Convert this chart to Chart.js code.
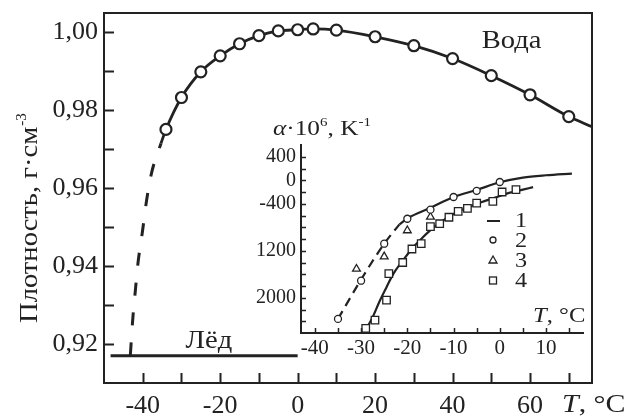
<!DOCTYPE html>
<html>
<head>
<meta charset="utf-8">
<script src="https://cdn.jsdelivr.net/npm/chart.js@4.4.0/dist/chart.umd.min.js"></script>
<style>
  body { margin: 0; background: #fff; }
  #wrap { position: relative; width: 629px; height: 418px; }
  #main { position: absolute; left: 0; top: 0; }
  #inset { position: absolute; left: 230px; top: 100px; }
</style>
</head>
<body>
<div id="wrap">
  <canvas id="main" width="629" height="418"></canvas>
  <canvas id="inset" width="370" height="260"></canvas>
</div>
<script>
const INK = '#222';
const SERIF = '"Liberation Serif", "Times New Roman", serif';

// плотность воды (кружки), T в °C, г/см3
const waterT = [-34, -30, -25, -20, -15, -10, -5, 0, 4, 10, 20, 30, 40, 50, 60, 70];
const waterD = [0.9751, 0.9833, 0.9899, 0.9940, 0.9971, 0.9992, 1.0004, 1.0007, 1.0009, 1.0006, 0.9989, 0.9966, 0.9933, 0.9889, 0.9840, 0.9784];
// сплошная кривая: от начала пунктира до правого края
const curveT = [-35.3, ...waterT, 76];
const curveD = [0.9715, ...waterD, 0.9758];
// пунктир – переохлаждённая вода
const superT = [-43.2, -42.6, -41.9, -41.2, -40.1, -39.0, -37.7, -35.3];
const superD = [0.9171, 0.9261, 0.9338, 0.9410, 0.9487, 0.9569, 0.9640, 0.9715];
// лёд
const iceT = [-48.3, 0];
const iceD = [0.917, 0.917];

const mainXTicks = [-40, -30, -20, -10, 0, 10, 20, 30, 40, 50, 60, 70];
const mainXTickLabels = ['-40', '', '-20', '', '0', '', '20', '', '40', '', '60', ''];
const mainYTicks = [0.92, 0.93, 0.94, 0.95, 0.96, 0.97, 0.98, 0.99, 1.00];
const mainYTickLabels = ['0,92', '', '0,94', '', '0,96', '', '0,98', '', '1,00'];

// вставка: коэффициент расширения alpha*10^6, 1/K
const circT = [-35, -30, -25, -20, -15, -10, -5, 0];
const circA = [-2360, -1710, -1080, -655, -500, -285, -180, -30];
const triT = [-31, -25, -20, -15];
const triA = [-1510, -1300, -855, -625];
const sqT = [-29, -27, -24.5, -24, -21, -19, -17, -15, -13, -11, -9, -7, -5, -1.5, 0.5, 3.5];
const sqA = [-2520, -2380, -2040, -1590, -1400, -1170, -1080, -790, -740, -630, -530, -480, -390, -360, -200, -160];
const line1DashT = [-35, -30, -25, -21.7];
const line1DashA = [-2360, -1690, -1080, -750];
const line1T = [-21.7, -20, -15, -10, -5, 0, 5, 10, 15.6];
const line1A = [-750, -650, -470, -285, -165, -35, 45, 85, 114];
const line4T = [-29.5, -27.5, -26, -24.5, -23, -21, -19, -17, -15, -13, -10, -7, -4, -1, 2, 5, 7.2];
const line4A = [-2610, -2330, -2060, -1820, -1590, -1370, -1165, -1000, -850, -725, -575, -465, -375, -295, -215, -160, -118];

const insetXTicks = [-40, -35, -30, -25, -20, -15, -10, -5, 0, 5, 10, 15];
const insetXTickLabels = ['-40', '', '-30', '', '-20', '', '-10', '', '0', '', '10', ''];
const insetYTicks = [-2400, -2200, -2000, -1800, -1600, -1400, -1200, -1000, -800, -600, -400, -200, 0, 200, 400];
const insetYTickLabels = ['', '', '2000', '', '', '', '1200', '', '', '', '-400', '', '0', '', '400'];
const legendLabels = ['1', '2', '3', '4'];

const pts = (xs, ys) => xs.map((x, i) => ({ x, y: ys[i] }));

// размеры оси задаём сами, без запаса под крайние подписи
function fixBox(size) {
  return s => {
    if (s.isHorizontal()) s.height = size; else s.width = size;
    s.paddingTop = s.paddingBottom = s.paddingLeft = s.paddingRight = 0;
  };
}

// текст, слегка растянутый по ширине
function wideText(ctx, s, x, y, sx) {
  ctx.save();
  ctx.translate(x, y);
  ctx.scale(sx, 1);
  ctx.fillText(s, 0, 0);
  const w = ctx.measureText(s).width * sx;
  ctx.restore();
  return w;
}

// засечки внутрь области графика (+ рамка для основного графика)
const innerTicks = {
  id: 'innerTicks',
  afterDatasetsDraw(chart, args, opts) {
    const { ctx, chartArea: a, scales: { x, y } } = chart;
    ctx.save();
    ctx.strokeStyle = INK;
    ctx.lineWidth = opts.width;
    ctx.beginPath();
    x.ticks.forEach(t => {
      const px = Math.round(x.getPixelForValue(t.value)) + 0.5;
      ctx.moveTo(px, a.bottom);
      ctx.lineTo(px, a.bottom - opts.len);
    });
    y.ticks.forEach(t => {
      const py = Math.round(y.getPixelForValue(t.value)) + 0.5;
      ctx.moveTo(a.left, py);
      ctx.lineTo(a.left + opts.len, py);
    });
    ctx.stroke();
    if (opts.frame) {
      ctx.lineWidth = opts.frame;
      ctx.strokeRect(a.left, a.top, a.width, a.height);
    }
    ctx.restore();
  }
};

const mainNotes = {
  id: 'mainNotes',
  afterDraw(chart) {
    const { ctx, scales: { x, y } } = chart;
    ctx.save();
    ctx.fillStyle = INK;
    ctx.textAlign = 'left';
    ctx.textBaseline = 'alphabetic';
    ctx.font = '26px ' + SERIF;
    wideText(ctx, 'Вода', x.getPixelForValue(55) - 29, y.getPixelForValue(0.9961), 1.1);
    wideText(ctx, 'Лёд', x.getPixelForValue(-23) - 23, y.getPixelForValue(0.9189), 1.1);

    // T, °C справа под осью
    ctx.font = 'italic 26px ' + SERIF;
    const tw = wideText(ctx, 'T', 562, 412, 1.15);
    ctx.font = '26px ' + SERIF;
    wideText(ctx, ', °C', 562 + tw, 412, 1.15);

    // подпись оси y
    ctx.translate(37, 323);
    ctx.rotate(-Math.PI / 2);
    ctx.font = '26px ' + SERIF;
    const w = wideText(ctx, 'Плотность, г·см', 0, 0, 1.1);
    ctx.font = '15px ' + SERIF;
    ctx.fillText('-3', w + 1, -11);
    ctx.restore();
  }
};

const insetNotes = {
  id: 'insetNotes',
  afterDraw(chart) {
    const { ctx } = chart;
    ctx.save();
    ctx.fillStyle = INK;
    ctx.strokeStyle = INK;
    ctx.textBaseline = 'alphabetic';
    ctx.textAlign = 'left';

    // alpha·10^6, K^-1
    const parts = [
      ['italic 22px', 'α', 0], ['22px', '·10', 0], ['13px', '6', -9],
      ['22px', ', K', 0], ['13px', '-1', -9]
    ];
    let cx = 43;
    parts.forEach(([f, s, dy]) => {
      ctx.font = f + ' ' + SERIF;
      cx += wideText(ctx, s, cx, 35 + dy, 1.15);
    });

    // T, °C у оси вставки
    ctx.font = 'italic 22px ' + SERIF;
    const tw = wideText(ctx, 'T', 303, 222, 1.12);
    ctx.font = '22px ' + SERIF;
    wideText(ctx, ', °C', 303 + tw, 222, 1.12);

    // легенда
    const lx = 263, ys = [120, 140, 160, 180];
    ctx.beginPath();
    ctx.moveTo(lx - 6, ys[0] + 1); ctx.lineTo(lx + 7, ys[0] + 1);
    ctx.lineWidth = 2;
    ctx.stroke();
    ctx.lineWidth = 1.3;
    ctx.beginPath();
    ctx.arc(lx, ys[1], 3, 0, Math.PI * 2);
    ctx.stroke();
    ctx.beginPath();
    ctx.moveTo(lx, ys[2] - 4); ctx.lineTo(lx + 4, ys[2] + 3); ctx.lineTo(lx - 4, ys[2] + 3); ctx.closePath();
    ctx.stroke();
    ctx.strokeRect(lx - 3.5, ys[3] - 3, 7, 7);
    ctx.font = '22px ' + SERIF;
    ctx.textBaseline = 'middle';
    legendLabels.forEach((s, i) => wideText(ctx, s, 285, ys[i] + 1, 1.1));
    ctx.restore();
  }
};

new Chart(document.getElementById('main'), {
  type: 'scatter',
  data: {
    datasets: [
      {
        data: pts(waterT, waterD),
        pointStyle: 'circle', pointRadius: 5.5, pointBorderWidth: 2.2,
        pointBackgroundColor: '#fff', pointBorderColor: INK
      },
      {
        data: pts(curveT, curveD), showLine: true, pointRadius: 0,
        borderColor: INK, borderWidth: 2.8, cubicInterpolationMode: 'monotone'
      },
      {
        data: pts(superT, superD), showLine: true, pointRadius: 0,
        borderColor: INK, borderWidth: 3, borderDash: [13, 17], cubicInterpolationMode: 'monotone'
      },
      {
        data: pts(iceT, iceD), showLine: true, pointRadius: 0,
        borderColor: INK, borderWidth: 3
      }
    ]
  },
  options: {
    responsive: false,
    animation: false,
    events: [],
    layout: { padding: { left: 0, top: 13, right: 37, bottom: 0 } },
    plugins: {
      legend: { display: false },
      tooltip: { enabled: false },
      innerTicks: { len: 10, width: 2, frame: 2 }
    },
    scales: {
      x: {
        type: 'linear', min: -50, max: 76,
        grid: { display: false, drawTicks: false },
        border: { display: false },
        afterBuildTicks: s => { s.ticks = mainXTicks.map(v => ({ value: v })); },
        afterFit: fixBox(35),
        ticks: {
          autoSkip: false, maxRotation: 0, padding: 8, color: INK,
          font: { family: SERIF, size: 26 },
          callback: (v, i) => mainXTickLabels[i]
        }
      },
      y: {
        type: 'linear', min: 0.910, max: 1.005,
        grid: { display: false, drawTicks: false },
        border: { display: false },
        afterBuildTicks: s => { s.ticks = mainYTicks.map(v => ({ value: v })); },
        afterFit: fixBox(104),
        ticks: {
          autoSkip: false, padding: 6, color: INK,
          font: { family: SERIF, size: 26 },
          callback: (v, i) => mainYTickLabels[i]
        }
      }
    }
  },
  plugins: [innerTicks, mainNotes]
});

new Chart(document.getElementById('inset'), {
  type: 'scatter',
  data: {
    datasets: [
      {
        data: pts(circT, circA), pointStyle: 'circle', pointRadius: 3.5, pointBorderWidth: 1.3,
        pointBackgroundColor: '#fff', pointBorderColor: INK
      },
      {
        data: pts(triT, triA), pointStyle: 'triangle', pointRadius: 4.5, pointBorderWidth: 1.3,
        pointBackgroundColor: 'rgba(0,0,0,0)', pointBorderColor: INK
      },
      {
        data: pts(sqT, sqA), pointStyle: 'rect', pointRadius: 5.3, pointBorderWidth: 1.3,
        pointBackgroundColor: '#fff', pointBorderColor: INK
      },
      {
        data: pts(line1T, line1A), showLine: true, pointRadius: 0,
        borderColor: INK, borderWidth: 2.2, cubicInterpolationMode: 'monotone'
      },
      {
        data: pts(line1DashT, line1DashA), showLine: true, pointRadius: 0,
        borderColor: INK, borderWidth: 2.2, borderDash: [9, 6], cubicInterpolationMode: 'monotone'
      },
      {
        data: pts(line4T, line4A), showLine: true, pointRadius: 0,
        borderColor: INK, borderWidth: 2.2, cubicInterpolationMode: 'monotone'
      }
    ]
  },
  options: {
    responsive: false,
    animation: false,
    events: [],
    layout: { padding: { left: 0, top: 45, right: 17, bottom: 0 } },
    plugins: {
      legend: { display: false },
      tooltip: { enabled: false },
      innerTicks: { len: 5, width: 1.5, frame: 0 }
    },
    scales: {
      x: {
        type: 'linear', min: -43, max: 18,
        grid: { display: false, drawTicks: false },
        border: { display: true, color: INK, width: 2 },
        afterBuildTicks: s => { s.ticks = insetXTicks.map(v => ({ value: v })); },
        afterFit: fixBox(27),
        ticks: {
          autoSkip: false, maxRotation: 0, padding: 3, color: INK,
          font: { family: SERIF, size: 21 },
          callback: (v, i) => insetXTickLabels[i]
        }
      },
      y: {
        type: 'linear', min: -2600, max: 600,
        grid: { display: false, drawTicks: false },
        border: { display: true, color: INK, width: 2 },
        afterBuildTicks: s => { s.ticks = insetYTicks.map(v => ({ value: v })); },
        afterFit: fixBox(71),
        ticks: {
          autoSkip: false, padding: 5, color: INK,
          font: { family: SERIF, size: 20 },
          callback: (v, i) => insetYTickLabels[i]
        }
      }
    }
  },
  plugins: [innerTicks, insetNotes]
});
</script>
</body>
</html>
